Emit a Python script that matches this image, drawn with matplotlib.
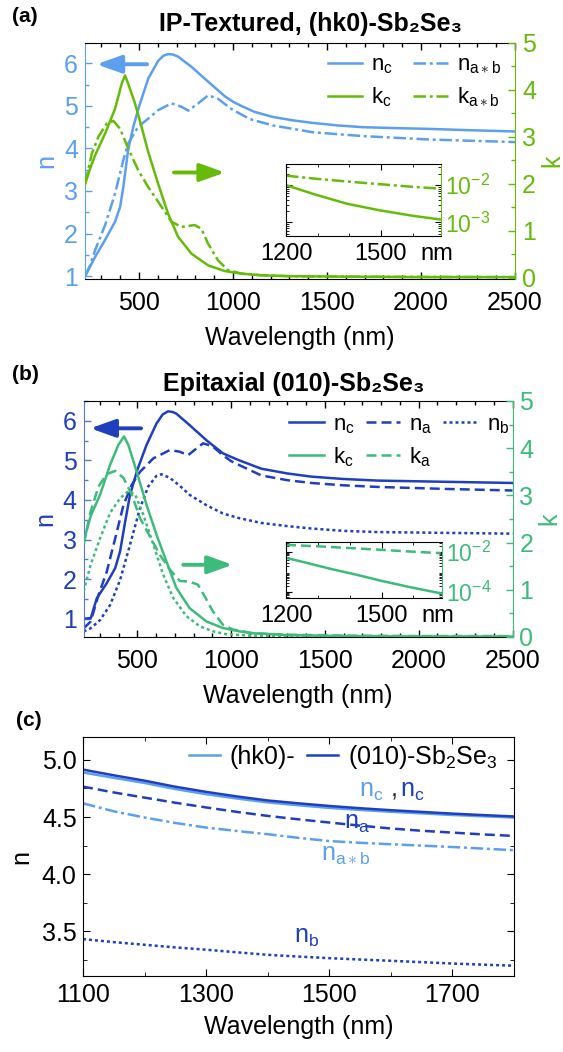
import matplotlib
matplotlib.use("Agg")
import matplotlib.pyplot as plt
import matplotlib.ticker as mticker
import numpy as np

plt.rcParams['font.family'] = ['Liberation Sans', 'DejaVu Sans']
plt.rcParams['mathtext.fontset'] = 'custom'
plt.rcParams['mathtext.rm'] = 'Liberation Sans'
plt.rcParams['mathtext.it'] = 'Liberation Sans:italic'
plt.rcParams['mathtext.bf'] = 'Liberation Sans:bold'

# colours
c_lb = '#5c9ff0'   # light blue (hk0)
c_lg = '#66bb0a'   # green (hk0)
c_db = '#1f3fbf'   # dark blue (010)
c_dg = '#3dbb7a'   # green (010)

# ---------------- panel (a) : IP-textured (hk0) ----------------
wl_a_nc = [214, 267, 320, 373, 400, 417, 443, 470, 500, 550, 602, 630, 655, 680, 708, 779, 868,
           956, 1000, 1044, 1115, 1213, 1320, 1426, 1560, 1692, 1850, 2047, 2250, 2500]
a_nc = [1.0, 1.45, 1.85, 2.28, 2.63, 3.1, 3.98, 4.51, 4.98, 5.65, 6.06, 6.18, 6.22, 6.21, 6.16, 5.92, 5.57,
        5.23, 5.1, 5.0, 4.86, 4.74, 4.66, 4.6, 4.54, 4.5, 4.48, 4.46, 4.43, 4.40]

wl_a_nab = [214, 240, 267, 320, 373, 417, 443, 496, 549, 602, 673, 726, 762, 815, 868,
            920, 991, 1090, 1213, 1426, 1692, 2047, 2500]
a_nab = [1.0, 1.25, 1.61, 2.2, 2.94, 3.73, 4.12, 4.51, 4.7, 4.9, 5.06, 4.98, 4.89, 5.06, 5.25,
         5.17, 4.93, 4.69, 4.54, 4.38, 4.29, 4.21, 4.15]

wl_a_kc = [214, 240, 267, 320, 373, 408, 426, 443, 479, 514, 549, 602, 655, 708, 779,
           868, 956, 1044, 1150, 1300, 1600, 2000, 2500]
a_kc = [2.0, 2.32, 2.61, 3.07, 3.6, 4.13, 4.31, 4.13, 3.71, 3.21, 2.68, 2.0, 1.36, 0.87, 0.51,
        0.26, 0.14, 0.085, 0.05, 0.03, 0.02, 0.01, 0.01]

wl_a_kab = [214, 249, 284, 328, 364, 400, 443, 496, 549, 620, 673, 726, 797, 832, 868,
            920, 973, 1044, 1150, 1300, 1600, 2000, 2500]
a_kab = [2.0, 2.64, 3.0, 3.28, 3.34, 3.17, 2.75, 2.29, 1.93, 1.51, 1.19, 1.08, 1.12, 1.04, 0.72,
         0.37, 0.16, 0.085, 0.05, 0.03, 0.02, 0.015, 0.01]

# inset (a), log k
wl_in = [1200, 1289, 1393, 1497, 1601, 1686]
ain_kc = [1.0e-2, 5.7e-3, 3.16e-3, 2.1e-3, 1.5e-3, 1.2e-3]
ain_kab = [1.8e-2, 1.5e-2, 1.25e-2, 1.06e-2, 9.0e-3, 8.1e-3]

# ---------------- panel (b) : epitaxial (010) ----------------
wl_b_nc = [214, 252, 284, 337, 382, 408, 435, 461, 500, 549, 602, 635, 664, 690, 708, 779, 868,
           956, 984, 1044, 1161, 1300, 1427, 1600, 1781, 2136, 2500]
b_nc = [1.0, 1.02, 1.52, 1.9, 2.28, 2.7, 3.45, 4.13, 4.76, 5.39, 5.93, 6.16, 6.24, 6.22, 6.18, 5.89, 5.51,
        5.18, 5.12, 5.0, 4.79, 4.67, 4.59, 4.53, 4.49, 4.46, 4.43]

wl_b_na = [214, 251, 293, 337, 382, 426, 470, 514, 585, 673, 726, 770, 815, 850, 900,
           956, 1000, 1044, 1161, 1300, 1427, 1600, 1781, 2136, 2500]
b_na = [0.76, 0.93, 1.6, 2.19, 3.03, 3.87, 4.38, 4.71, 5.05, 5.26, 5.22, 5.13, 5.3, 5.43, 5.36,
        5.13, 4.98, 4.88, 4.62, 4.5, 4.43, 4.37, 4.33, 4.28, 4.24]

wl_b_nb = [214, 251, 302, 355, 408, 461, 514, 558, 602, 629, 673, 726, 779, 868, 956,
           1044, 1161, 1300, 1427, 1600, 1781, 2136, 2500]
b_nb = [0.68, 0.76, 0.97, 1.35, 1.98, 2.87, 3.79, 4.34, 4.61, 4.65, 4.56, 4.36, 4.13, 3.87, 3.66,
        3.54, 3.42, 3.34, 3.28, 3.22, 3.19, 3.17, 3.15]

wl_b_kc = [214, 251, 302, 355, 399, 429, 452, 496, 549, 602, 655, 708, 779, 868, 956,
           1044, 1115, 1300, 1600, 2000, 2500]
b_kc = [2.03, 2.56, 3.02, 3.65, 4.07, 4.25, 4.07, 3.51, 2.8, 2.17, 1.6, 1.04, 0.61, 0.33, 0.19,
        0.12, 0.08, 0.04, 0.02, 0.01, 0.01]

wl_b_ka = [214, 251, 293, 337, 382, 426, 470, 514, 567, 620, 673, 726, 779, 823, 859,
           903, 956, 1009, 1115, 1300, 1600, 2000, 2500]
b_ka = [1.96, 2.66, 3.19, 3.45, 3.52, 3.37, 3.02, 2.52, 2.13, 1.74, 1.43, 1.19, 1.17, 1.11, 0.86,
        0.54, 0.26, 0.16, 0.08, 0.05, 0.03, 0.02, 0.02]

wl_b_kb = [214, 251, 302, 355, 408, 452, 488, 532, 585, 638, 691, 762, 832, 903, 973,
           1100, 1500, 2000, 2500]
b_kb = [0.97, 1.53, 2.1, 2.63, 2.94, 3.09, 3.02, 2.59, 1.96, 1.32, 0.83, 0.44, 0.23, 0.12, 0.06,
        0.03, 0.01, 0.01, 0.01]

# inset (b), log k
wl_in_b = [1200, 1270, 1340, 1420, 1497, 1590, 1686]
bin_kc = [5.2e-3, 2.8e-3, 1.47e-3, 7.6e-4, 3.8e-4, 1.8e-4, 8.9e-5]
wl_in_b2 = [1200, 1300, 1400, 1500, 1600, 1686]
bin_ka = [2.3e-2, 1.95e-2, 1.6e-2, 1.3e-2, 1.05e-2, 8.9e-3]

# ---------------- panel (c) : zoom 1100-1800 nm ----------------
wl_c = [1100, 1150, 1200, 1250, 1300, 1350, 1400, 1450, 1500, 1550, 1600, 1650, 1700, 1750, 1800]
c_nc_010 = [4.915, 4.865, 4.818, 4.765, 4.72, 4.68, 4.645, 4.62, 4.597, 4.577, 4.56, 4.545,
            4.53, 4.517, 4.505]
c_nc_hk0 = [4.89, 4.843, 4.798, 4.745, 4.70, 4.662, 4.628, 4.603, 4.58, 4.562, 4.546, 4.532,
            4.518, 4.507, 4.496]
c_na = [4.766, 4.715, 4.67, 4.625, 4.584, 4.545, 4.51, 4.48, 4.452, 4.425, 4.40, 4.38,
        4.364, 4.348, 4.335]
c_nab = [4.62, 4.55, 4.496, 4.448, 4.408, 4.378, 4.35, 4.318, 4.29, 4.275, 4.262, 4.25,
         4.238, 4.224, 4.21]
c_nb = [3.433, 3.406, 3.383, 3.36, 3.34, 3.317, 3.295, 3.28, 3.266, 3.254, 3.243, 3.231,
        3.219, 3.209, 3.20]

W, H = 563, 1052
fig = plt.figure(figsize=(W / 100, H / 100), dpi=100)

FS_TICK = 18
FS_LAB = 18
LW = 1.8
DASHDOT = (0, (5, 1.5, 1.2, 1.5))
DASH = (0, (4, 2))
DOT = (0, (1.2, 1.2))


def box(l, t, r, b):
    return [l / W, 1 - b / H, (r - l) / W, (b - t) / H]


def style_main(ax, axk, ncol, kcol, spine_ncol):
    ax.set_xlim(213, 2500)
    ax.xaxis.set_major_locator(mticker.MultipleLocator(500))
    ax.xaxis.set_minor_locator(mticker.MultipleLocator(100))
    ax.yaxis.set_major_locator(mticker.MultipleLocator(1))
    ax.yaxis.set_minor_locator(mticker.MultipleLocator(0.5))
    ax.tick_params(which='both', direction='in', top=True, right=False, labelsize=FS_TICK)
    ax.tick_params(which='major', length=5, width=1)
    ax.tick_params(which='minor', length=3, width=1)
    ax.tick_params(axis='y', which='both', colors=spine_ncol, labelcolor=ncol, pad=5)
    ax.tick_params(axis='x', pad=8.5)
    ax.spines['left'].set_color(spine_ncol)
    ax.spines['right'].set_visible(False)
    ax.set_ylabel('n', color=ncol, fontsize=FS_LAB, labelpad=4)
    ax.set_xlabel('Wavelength (nm)', fontsize=FS_LAB, labelpad=8)

    axk.set_ylim(0, 5)
    axk.yaxis.set_major_locator(mticker.MultipleLocator(1))
    axk.yaxis.set_minor_locator(mticker.MultipleLocator(0.5))
    axk.tick_params(which='both', direction='in', colors=kcol, labelsize=FS_TICK, pad=5)
    axk.tick_params(which='major', length=5, width=1)
    axk.tick_params(which='minor', length=3, width=1)
    axk.spines['right'].set_color(kcol)
    for s in ['left', 'top', 'bottom']:
        axk.spines[s].set_visible(False)
    axk.set_ylabel('k', color=kcol, fontsize=FS_LAB, labelpad=3)


def style_inset(axi, kcol, ylim, yticks):
    axi.set_xlim(1200, 1690)
    axi.set_yscale('log')
    axi.set_ylim(*ylim)
    axi.set_xticks([1200, 1500])
    axi.xaxis.set_minor_locator(mticker.MultipleLocator(100))
    axi.set_yticks(yticks)
    axi.yaxis.set_minor_locator(mticker.LogLocator(base=10, subs=np.arange(2, 10), numticks=20))
    axi.yaxis.set_minor_formatter(mticker.NullFormatter())
    axi.tick_params(which='both', direction='in', top=True, right=True, left=True,
                    labelleft=False, labelright=True)
    axi.tick_params(which='major', length=4)
    axi.tick_params(which='minor', length=2)
    axi.tick_params(axis='x', labelsize=17, pad=5)
    axi.tick_params(axis='y', labelsize=16.5, labelcolor=kcol, pad=3)
    axi.spines['right'].set_color(kcol)
    axi.annotate('nm', xy=(1624, 0), xycoords=('data', 'axes fraction'),
                 xytext=(0, -5), textcoords='offset points',
                 ha='left', va='top', fontsize=17)


def arrow(ax, x0, x1, y, col):
    ax.annotate('', xy=(x1, y), xytext=(x0, y),
                arrowprops=dict(arrowstyle='-|>,head_length=0.75,head_width=0.27',
                                color=col, lw=2.8, shrinkA=0, shrinkB=0,
                                mutation_scale=20))


# ---- (a)
ax_a = fig.add_axes(box(85, 43, 515, 279))
ax_a.set_ylim(0.93, 6.48)
ax_ak = ax_a.twinx()
style_main(ax_a, ax_ak, c_lb, c_lg, c_lb)
ax_ak.set_ylim(-0.03, 5)
l1, = ax_a.plot(wl_a_nc, a_nc, color=c_lb, lw=LW, label=r'n$_\mathrm{c}$')
l2, = ax_a.plot(wl_a_nab, a_nab, color=c_lb, lw=LW, ls=DASHDOT,
                label=r'n$_{\mathrm{a}\ast\mathrm{b}}$')
l3, = ax_ak.plot(wl_a_kc, a_kc, color=c_lg, lw=LW, label=r'k$_\mathrm{c}$')
l4, = ax_ak.plot(wl_a_kab, a_kab, color=c_lg, lw=LW, ls=DASHDOT,
                 label=r'k$_{\mathrm{a}\ast\mathrm{b}}$')
ax_ak.legend(handles=[l1, l3, l2, l4], ncol=2, loc='upper left', bbox_to_anchor=(0.565, 0.95),
             frameon=False, fontsize=16, handlelength=1.55, handletextpad=0.4,
             columnspacing=0.9, labelspacing=0.42, borderpad=0, borderaxespad=0)
arrow(ax_a, 543, 275, 5.98, c_lb)
arrow(ax_ak, 686, 957, 2.24, c_lg)

axi_a = fig.add_axes(box(286, 164, 441, 236))
axi_a.plot(wl_in, ain_kab, color=c_lg, lw=LW, ls=DASHDOT)
axi_a.plot(wl_in, ain_kc, color=c_lg, lw=LW)
style_inset(axi_a, c_lg, (4.3e-4, 3.7e-2), [1e-3, 1e-2])

fig.text(311 / W, 1 - 24 / H, 'IP-Textured, (hk0)-Sb₂Se₃', ha='center', va='center',
         fontsize=18, fontweight='bold')
fig.text(12 / W, 1 - 16 / H, '(a)', ha='left', va='center', fontsize=15, fontweight='bold')

# ---- (b)
ax_b = fig.add_axes(box(83.5, 401, 512.5, 637))
ax_b.set_ylim(0.54, 6.5)
ax_bk = ax_b.twinx()
style_main(ax_b, ax_bk, c_db, c_dg, '#5a78d2')
m1, = ax_b.plot(wl_b_nc, b_nc, color=c_db, lw=LW, label=r'n$_\mathrm{c}$')
m2, = ax_b.plot(wl_b_na, b_na, color=c_db, lw=LW, ls=DASH, label=r'n$_\mathrm{a}$')
m3, = ax_b.plot(wl_b_nb, b_nb, color=c_db, lw=LW, ls=DOT, label=r'n$_\mathrm{b}$')
m4, = ax_bk.plot(wl_b_kc, b_kc, color=c_dg, lw=LW, label=r'k$_\mathrm{c}$')
m5, = ax_bk.plot(wl_b_ka, b_ka, color=c_dg, lw=LW, ls=DASH, label=r'k$_\mathrm{a}$')
ax_bk.plot(wl_b_kb, b_kb, color=c_dg, lw=LW, ls=DOT)
ax_bk.legend(handles=[m1, m4, m2, m5, m3], ncol=3, loc='upper left', bbox_to_anchor=(0.48, 0.945),
             frameon=False, fontsize=16, handlelength=1.55, handletextpad=0.4,
             columnspacing=0.5, labelspacing=0.42, borderpad=0, borderaxespad=0)
arrow(ax_b, 520, 250, 5.81, c_db)
arrow(ax_bk, 745, 1008, 1.53, c_dg)

axi_b = fig.add_axes(box(286, 542, 442, 598))
axi_b.plot(wl_in_b2, bin_ka, color=c_dg, lw=LW, ls=DASH)
axi_b.plot(wl_in_b, bin_kc, color=c_dg, lw=LW)
style_inset(axi_b, c_dg, (5.2e-5, 3.2e-2), [1e-4, 1e-2])

fig.text(294 / W, 1 - 384 / H, 'Epitaxial (010)-Sb₂Se₃', ha='center', va='center',
         fontsize=18, fontweight='bold')
fig.text(12 / W, 1 - 374 / H, '(b)', ha='left', va='center', fontsize=15, fontweight='bold')

# ---- (c)
ax_c = fig.add_axes(box(83, 737, 514, 976))
ax_c.plot(wl_c, c_nc_hk0, color=c_lb, lw=LW, label='(hk0)-')
ax_c.plot(wl_c, c_nc_010, color=c_db, lw=LW, label=r'(010)-Sb$_2$Se$_3$')
ax_c.plot(wl_c, c_na, color=c_db, lw=LW, ls=DASH)
ax_c.plot(wl_c, c_nab, color=c_lb, lw=LW, ls=DASHDOT)
ax_c.plot(wl_c, c_nb, color=c_db, lw=LW, ls=DOT)
ax_c.set_xlim(1100, 1800)
ax_c.set_ylim(3.11, 5.2)
ax_c.xaxis.set_major_locator(mticker.FixedLocator([1100, 1300, 1500, 1700]))
ax_c.xaxis.set_minor_locator(mticker.FixedLocator([1200, 1400, 1600, 1800]))
ax_c.yaxis.set_major_locator(mticker.MultipleLocator(0.5))
ax_c.yaxis.set_minor_locator(mticker.MultipleLocator(0.25))
ax_c.yaxis.set_major_formatter(mticker.FormatStrFormatter('%.1f'))
ax_c.tick_params(which='both', direction='in', top=True, right=True, labelsize=FS_TICK)
ax_c.tick_params(which='major', length=5)
ax_c.tick_params(which='minor', length=3)
ax_c.tick_params(axis='x', pad=5)
ax_c.tick_params(axis='y', pad=4.5)
ax_c.set_xlabel('Wavelength (nm)', fontsize=FS_LAB, labelpad=6)
ax_c.set_ylabel('n', fontsize=FS_LAB, labelpad=6)
ax_c.legend(ncol=2, loc='upper left', bbox_to_anchor=(0.245, 0.975), frameon=False, fontsize=18,
            handlelength=1.25, handletextpad=0.4, columnspacing=0.45,
            borderpad=0, borderaxespad=0)
ax_c.text(1548, 4.678, r'n$_\mathrm{c}$', color=c_lb, fontsize=18, va='baseline')
ax_c.text(1600, 4.678, ',', color='#222222', fontsize=18, va='baseline')
ax_c.text(1615, 4.678, r'n$_\mathrm{c}$', color=c_db, fontsize=18, va='baseline')
ax_c.text(1524, 4.394, r'n$_\mathrm{a}$', color=c_db, fontsize=18, va='baseline')
ax_c.text(1487, 4.115, r'n$_{\mathrm{a}\ast\mathrm{b}}$', color=c_lb, fontsize=18, va='baseline')
ax_c.text(1442, 3.398, r'n$_\mathrm{b}$', color=c_db, fontsize=18, va='baseline')
fig.text(16 / W, 1 - 720 / H, '(c)', ha='left', va='center', fontsize=15, fontweight='bold')

fig.savefig('out.png', dpi=100)
